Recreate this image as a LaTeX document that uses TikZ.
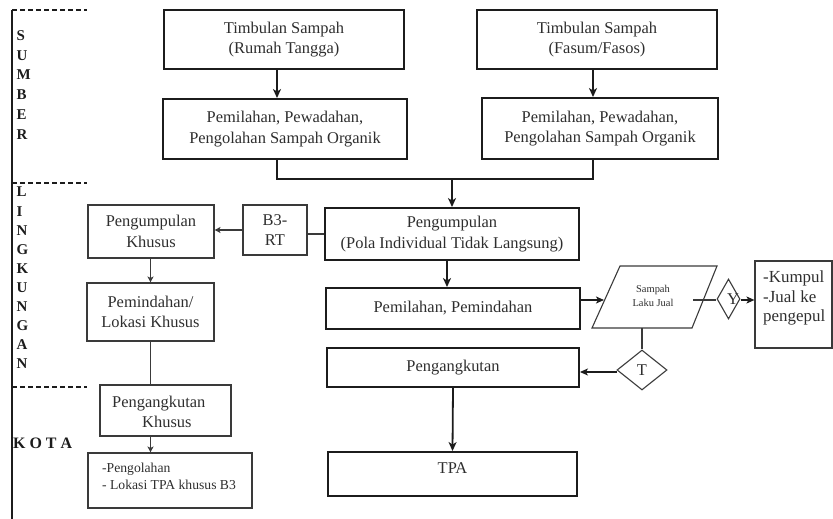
\documentclass[tikz,border=0pt]{standalone}
\usepackage{fontspec}
\setmainfont{Liberation Serif}
\usetikzlibrary{arrows.meta,shapes.geometric,calc}
\definecolor{ink}{HTML}{1C1C1C}
\definecolor{inkt}{HTML}{2E2E2E}
\definecolor{inkl}{HTML}{3A3A3A}
\begin{document}
\begin{tikzpicture}[x=1bp,y=-1bp,
  mainbox/.style={draw=ink, line width=1.9bp, rectangle, inner sep=0pt, align=center, text=inkt,
    font=\fontsize{16.5}{20.5}\selectfont},
  thinbox/.style={mainbox, draw=inkl, line width=1.1bp},
  txt/.style={inner sep=0pt, text=inkt, font=\fontsize{16.5}{20}\selectfont},
  arr/.style={draw=ink, line width=1.8bp, -{Stealth[length=9bp,width=8bp,inset=2.5bp]}},
  ln/.style={draw=ink, line width=1.8bp},
  marr/.style={draw=ink, line width=1.4bp, -{Stealth[length=8bp,width=7bp,inset=2bp]}},
  tarr/.style={draw=inkl, line width=1.1bp, -{Stealth[length=6bp,width=6bp,inset=1.5bp]}},
  tln/.style={draw=inkl, line width=1.1bp},
  sideline/.style={draw=ink, line width=1.8bp},
  sepline/.style={draw=ink, line width=2bp, dash pattern=on 5bp off 3bp},
  vlet/.style={inner sep=0pt, anchor=north west, align=left, text=ink, font=\bfseries\fontsize{15}{20}\selectfont}
]
\useasboundingbox (0,0) rectangle (833,519);

% ---------- side bar ----------
\coordinate (vtop) at (12,10);
\coordinate (vbot) at (12,519);
\draw[sideline] (vtop) -- (vbot);
\coordinate (s1a) at (12,10);  \coordinate (s1b) at (87,10);
\coordinate (s2a) at (12,183); \coordinate (s2b) at (87,183);
\coordinate (s3a) at (12,387); \coordinate (s3b) at (87,387);
\draw[sepline] (s1a) -- (s1b);
\draw[sepline] (s2a) -- (s2b);
\draw[sepline] (s3a) -- (s3b);
\node[vlet] (sumber) at (16.5,30) {S\\U\\M\\B\\E\\R};
\node[vlet, font=\bfseries\fontsize{15}{19.1}\selectfont] (lingkungan) at (16.5,187) {L\\I\\N\\G\\K\\U\\N\\G\\A\\N};
\node[inner sep=0pt, anchor=west, text=ink, font=\bfseries\fontsize{16}{19}\selectfont] (kota) at (13,443) {K O T A};

% ---------- top sources ----------
\node[mainbox, minimum width=240bp, minimum height=59bp] (ts1) at (284,39.5) {Timbulan Sampah\\(Rumah Tangga)};
\node[mainbox, minimum width=244bp, minimum height=60bp] (pp1) at (285,129) {Pemilahan, Pewadahan,\\Pengolahan Sampah Organik};
\node[mainbox, minimum width=240bp, minimum height=59bp] (ts2) at (597,39.5) {Timbulan Sampah\\(Fasum/Fasos)};
\node[mainbox, minimum width=236bp, minimum height=61bp] (pp2) at (600,128.5) {Pemilahan, Pewadahan,\\Pengolahan Sampah Organik};

% ---------- main column ----------
\node[mainbox, minimum width=254bp, minimum height=52bp] (pg) at (452,234) {Pengumpulan\\(Pola Individual Tidak Langsung)};
\node[mainbox, minimum width=254bp, minimum height=41bp] (pm) at (453,308.5) {Pemilahan, Pemindahan};
\node[mainbox, minimum width=252bp, minimum height=39bp] (ang) at (453,367.5) {Pengangkutan};
\node[mainbox, minimum width=249bp, minimum height=44bp] (tpa) at (452.5,474) {};
\node[txt] (tpat) at (452.5,468) {TPA};

% ---------- left column ----------
\node[thinbox, minimum width=64bp, minimum height=50bp] (b3) at (275,230) {B3-\\RT};
\node[thinbox, minimum width=126bp, minimum height=53bp] (pk) at (151,231.5) {Pengumpulan\\Khusus};
\node[thinbox, minimum width=127bp, minimum height=58bp] (pl) at (150.5,312) {Pemindahan/\\Lokasi Khusus};
\node[thinbox, minimum width=131bp, minimum height=51bp] (ak) at (165.5,410.5) {};
\node[txt, anchor=west, align=left] (akt) at (112,411.5) {Pengangkutan\\\hspace*{30bp}Khusus};
\node[thinbox, minimum width=164bp, minimum height=55bp] (tb3) at (170,480.5) {};
\node[txt, anchor=west, align=left, font=\fontsize{13.7}{17}\selectfont] (tb3t) at (102,476) {-Pengolahan\\- Lokasi TPA khusus B3};

% ---------- right decision part ----------
\coordinate (q1) at (620,266);
\coordinate (q2) at (717,266);
\coordinate (q3) at (692,328);
\coordinate (q4) at (592,328);
\draw[tln] (q1) -- (q2) -- (q3) -- (q4) -- cycle;
\node[txt, align=center, font=\fontsize{10.5}{14}\selectfont] (slj) at (653,296) {Sampah\\Laku Jual};

\node[draw=inkl, line width=1.1bp, diamond, inner sep=0pt, minimum width=23bp, minimum height=40bp] (dy) at (728.5,299) {};
\node[txt] (yt) at (733,299) {Y};
\node[draw=inkl, line width=1.1bp, diamond, inner sep=0pt, minimum width=50bp, minimum height=40bp, text=inkt,
  font=\fontsize{16.5}{20}\selectfont] (dt) at (642,370) {T};

\node[thinbox, minimum width=77bp, minimum height=87bp] (kp) at (793.5,304.5) {};
\node[txt, anchor=west, align=left, font=\fontsize{17}{20}\selectfont] (kpt) at (763,298) {-Kumpul\\-Jual ke\\pengepul};

% ---------- connectors ----------
\coordinate (j1) at (277,179);
\coordinate (j2) at (593,179);
\coordinate (j3) at (452,179);
\coordinate (j4) at (447,0);
\draw[arr] (ts1.south -| j1) -- (pp1.north -| j1);
\draw[arr] (ts2.south -| j2) -- (pp2.north -| j2);
\draw[ln] (pp1.south -| j1) -- (j1) -- (j2) -- (pp2.south -| j2);
\draw[arr] (j3) -- (pg.north -| j3);
\draw[arr] (pg.south -| j4) -- (pm.north -| j4);
\draw[arr] (ang.south) -- (tpa.north);

\draw[tln] (pg.west) -- (b3.east |- pg.west);
\draw[tarr] (b3.west) -- (pk.east |- b3.west);
\coordinate (lx) at (150.5,0);
\draw[tarr] (pk.south -| lx) -- (pl.north -| lx);
\draw[tln] (pl.south -| lx) -- (ak.north -| lx);
\draw[tarr] (ak.south -| lx) -- (tb3.north -| lx);

\coordinate (pin) at (604,300);
\coordinate (pout) at (693,300);
\coordinate (pbot) at (642,328);
\coordinate (tl) at (617,372);
\draw[marr] (pm.east |- pin) -- (pin);
\draw[tln, line width=1.4bp] (pout) -- (dy.west |- pout);
\draw[marr] (dy.east |- pout) -- (kp.west |- pout);
\draw[tln, line width=1.4bp] (pbot) -- (dt.north);
\draw[marr] (tl) -- (ang.east |- tl);
\end{tikzpicture}
\end{document}
